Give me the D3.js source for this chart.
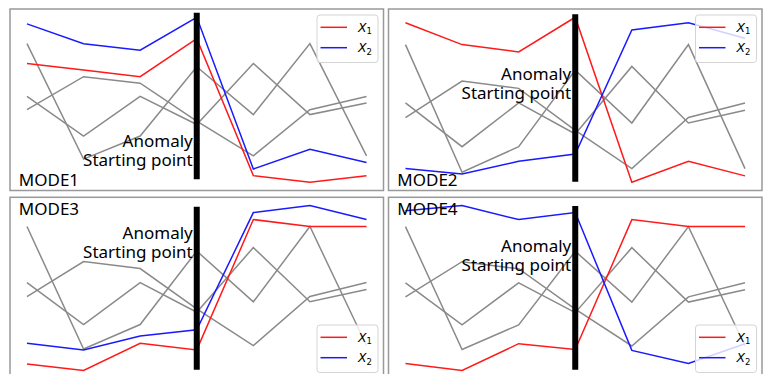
<!DOCTYPE html>
<html>
<head>
<meta charset="utf-8">
<script src="https://cdn.jsdelivr.net/npm/d3@7"></script>
<style>
  body { margin: 0; background: #fff; }
  svg { display: block; }
</style>
</head>
<body>
<div id="chart"></div>
<script>
// time steps and the step where the anomaly starts
const steps = [0, 1, 2, 3, 4, 5, 6];
const onset = 3;

// the other (grey) variables, same in every mode
const grey1 = [8.4, 1.4, 2.8, 7.0, 4.1, 8.4, 1.6];
const grey2 = [5.2, 2.8, 5.2, 3.5, 7.2, 4.1, 4.8];
const grey3 = [4.4, 6.4, 6.0, 3.7, 1.6, 4.4, 5.2];

// X1 / X2 per mode
const mode1X1 = [7.2, 6.8, 6.4, 8.7, 0.4, 0.0, 0.4];
const mode1X2 = [9.6, 8.4, 8.0, 10.0, 0.8, 2.0, 1.2];
const mode2X1 = [9.6, 8.4, 8.0, 9.9, 0.85, 2.0, 1.2];
const mode2X2 = [1.6, 1.3, 2.0, 2.4, 9.2, 9.6, 8.75];
const mode3X1 = [0.55, 0.17, 1.73, 1.35, 8.8, 8.4, 8.4];
const mode3X2 = [1.73, 1.35, 2.15, 2.5, 9.2, 9.6, 8.8];
const mode4X1 = [0.6, 0.2, 1.73, 1.4, 8.8, 8.4, 8.4];
const mode4X2 = [9.3, 9.6, 8.8, 9.2, 1.35, 0.6, 1.73];

const modeNames = ["MODE1", "MODE2", "MODE3", "MODE4"];
const noteLines = ["Anomaly", "Starting point"];
const seriesNames = ["X", "X"];
const seriesSubs = ["1", "2"];

const W = 766, H = 374;
const panelW = 373.5, panelH = 181.5;

// layout of the four panels
const panels = [
  {x1: mode1X1, x2: mode1X2, left: 10, top: 9, label: "bottom", legend: "top", barLo: 0.062, barHi: 0.98, note: 137.7},
  {x1: mode2X1, x2: mode2X2, left: 388.5, top: 9, label: "bottom", legend: "top", barLo: 0.048, barHi: 0.971, note: 71},
  {x1: mode3X1, x2: mode3X2, left: 10, top: 197.3, label: "top", legend: "bottom", barLo: 0.05, barHi: 0.948, note: 42},
  {x1: mode4X1, x2: mode4X2, left: 388.5, top: 197.3, label: "top", legend: "bottom", barLo: 0.05, barHi: 0.952, note: 54.4}
];

const svg = d3.select("#chart").append("svg")
  .attr("width", W)
  .attr("height", H);

svg.append("rect").attr("width", W).attr("height", H).attr("fill", "#fff");

const font = "'Noto Sans', 'DejaVu Sans', sans-serif";

panels.forEach((p, k) => {
  const g = svg.append("g").attr("transform", `translate(${p.left},${p.top})`);

  const x = d3.scaleLinear().domain([-0.3, 6.3]).range([0, panelW]);
  const all = [].concat(grey1, grey2, grey3, p.x1, p.x2);
  const ext = d3.extent(all);
  const pad = (ext[1] - ext[0]) * 0.05;
  const y = d3.scaleLinear().domain([ext[0] - pad, ext[1] + pad]).range([panelH, 0]);

  const clipId = "clip" + k;
  g.append("clipPath").attr("id", clipId)
    .append("rect").attr("width", panelW).attr("height", panelH);

  const plot = g.append("g").attr("clip-path", `url(#${clipId})`);
  const line = d3.line().x((d, i) => x(steps[i])).y(d => y(d));

  [grey1, grey2, grey3].forEach(s => {
    plot.append("path").datum(s)
      .attr("fill", "none")
      .attr("stroke", "#8a8a8a")
      .attr("stroke-width", 1.5)
      .attr("d", line);
  });
  plot.append("path").datum(p.x1)
    .attr("fill", "none").attr("stroke", "#ff1a1a").attr("stroke-width", 1.5)
    .attr("d", line);
  plot.append("path").datum(p.x2)
    .attr("fill", "none").attr("stroke", "#1a1aff").attr("stroke-width", 1.5)
    .attr("d", line);

  // anomaly onset bar
  plot.append("line")
    .attr("x1", x(onset)).attr("x2", x(onset))
    .attr("y1", panelH * (1 - p.barHi))
    .attr("y2", panelH * (1 - p.barLo))
    .attr("stroke", "#000")
    .attr("stroke-width", 6);

  // anomaly note, two lines
  noteLines.forEach((s, j) => {
    g.append("text")
      .attr("x", x(onset) - 4)
      .attr("y", p.note + j * 19)
      .attr("text-anchor", "end")
      .style("font-family", font)
      .style("font-size", "17px")
      .attr("fill", "#000")
      .text(s);
  });

  // mode label
  g.append("text")
    .attr("x", 8.8)
    .attr("y", p.label === "bottom" ? panelH - 4.3 : 17.7)
    .style("font-family", font)
    .style("font-size", "17px")
    .attr("fill", "#000")
    .text(modeNames[k]);

  // legend
  const lw = 61, lh = 47.5;
  const ly = p.legend === "top" ? 6 : panelH - 6.3 - lh;
  const lg = g.append("g").attr("transform", `translate(${panelW - 5.5 - lw},${ly})`);
  lg.append("rect")
    .attr("width", lw).attr("height", lh).attr("rx", 3)
    .attr("fill", "#fff").attr("fill-opacity", 0.8)
    .attr("stroke", "#d4d4d4").attr("stroke-width", 1);
  [{c: "#ff1a1a", yy: 12.3}, {c: "#1a1aff", yy: 32.7}].forEach((e, i) => {
    lg.append("line")
      .attr("x1", 3.5).attr("x2", 30)
      .attr("y1", e.yy).attr("y2", e.yy)
      .attr("stroke", e.c).attr("stroke-width", 1.5);
    const t = lg.append("text")
      .attr("x", 41).attr("y", e.yy + 4.5)
      .style("font-family", "'DejaVu Sans', sans-serif")
      .style("font-size", "12.5px")
      .attr("fill", "#000");
    t.append("tspan").style("font-style", "italic").text(seriesNames[i]);
    t.append("tspan").attr("dy", 2.5).style("font-size", "8.5px").text(seriesSubs[i]);
  });

  // frame
  g.append("rect")
    .attr("width", panelW).attr("height", panelH)
    .attr("fill", "none")
    .attr("stroke", "#999")
    .attr("stroke-width", 1.5);
});
</script>
</body>
</html>
